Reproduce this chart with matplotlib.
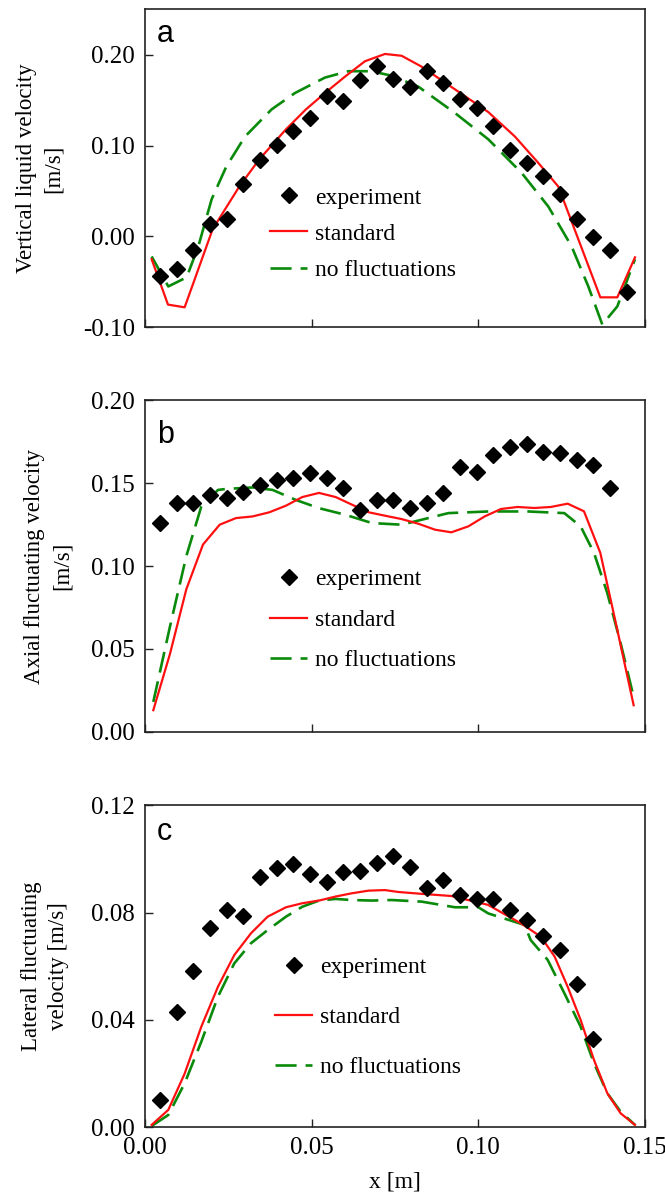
import matplotlib
matplotlib.use('Agg')
import matplotlib.pyplot as plt
from matplotlib.ticker import FormatStrFormatter

plt.rcParams['font.family'] = ['Liberation Serif', 'DejaVu Serif']

# experiment positions
x_exp = [0.0045, 0.0095, 0.0145, 0.0195, 0.0245, 0.0295, 0.0345, 0.0395,
         0.0445, 0.0495, 0.0545, 0.0595, 0.0645, 0.0695, 0.0745, 0.0795,
         0.0845, 0.0895, 0.0945, 0.0995, 0.1045, 0.1095, 0.1145, 0.1195,
         0.1245, 0.1295, 0.1345, 0.1395, 0.1445]

# (a) vertical liquid velocity
a_exp = [-0.043, -0.036, -0.015, 0.014, 0.019, 0.058, 0.084, 0.101, 0.116,
         0.130, 0.155, 0.149, 0.172, 0.188, 0.173, 0.165, 0.182, 0.169,
         0.151, 0.142, 0.122, 0.095, 0.081, 0.067, 0.047, 0.019, -0.001,
         -0.015, -0.061]
a_std_x = [0.002, 0.0069, 0.0119, 0.0203, 0.0283, 0.0343, 0.0423, 0.0483,
           0.054, 0.060, 0.066, 0.072, 0.077, 0.083, 0.093, 0.103, 0.111,
           0.118, 0.124, 0.127, 0.130, 0.1366, 0.1417, 0.147]
a_std = [-0.025, -0.075, -0.078, 0.008, 0.055, 0.085, 0.118, 0.140, 0.158,
         0.176, 0.193, 0.201, 0.199, 0.187, 0.162, 0.137, 0.110, 0.081,
         0.055, 0.026, -0.003, -0.067, -0.067, -0.023]
a_nof_x = [0.002, 0.007, 0.0125, 0.016, 0.020, 0.0244, 0.030, 0.038, 0.045,
           0.054, 0.061, 0.068, 0.074, 0.082, 0.093, 0.103, 0.113, 0.121,
           0.128, 0.133, 0.1372, 0.1417, 0.147]
a_nof = [-0.022, -0.055, -0.045, -0.011, 0.041, 0.077, 0.110, 0.140, 0.158,
         0.175, 0.182, 0.182, 0.177, 0.165, 0.136, 0.107, 0.070, 0.033,
         -0.011, -0.055, -0.097, -0.077, -0.025]

# (b) axial fluctuating velocity
b_exp = [0.126, 0.138, 0.138, 0.143, 0.141, 0.145, 0.149, 0.152, 0.153,
         0.156, 0.153, 0.147, 0.134, 0.140, 0.140, 0.135, 0.138, 0.144,
         0.160, 0.157, 0.167, 0.172, 0.174, 0.169, 0.168, 0.164, 0.161,
         0.147]
b_std_x = [0.0025, 0.0075, 0.0124, 0.0174, 0.0224, 0.0273, 0.0323, 0.0373,
           0.0423, 0.0472, 0.0522, 0.0572, 0.0621, 0.0671, 0.0721, 0.077,
           0.082, 0.087, 0.0919, 0.097, 0.1019, 0.1068, 0.1118, 0.1168,
           0.1217, 0.1268, 0.1317, 0.1366, 0.1417, 0.1466]
b_std = [0.013, 0.047, 0.086, 0.113, 0.125, 0.129, 0.130, 0.1325, 0.1365,
         0.1417, 0.1442, 0.1417, 0.1371, 0.1325, 0.1304, 0.1284, 0.1256,
         0.122, 0.1204, 0.124, 0.130, 0.1345, 0.1357, 0.1351, 0.1357,
         0.1377, 0.1331, 0.108, 0.0615, 0.016]
b_nof_x = [0.0025, 0.0075, 0.0124, 0.0169, 0.0219, 0.0244, 0.0323, 0.0383,
           0.0452, 0.0522, 0.0601, 0.0681, 0.077, 0.083, 0.091, 0.103,
           0.1148, 0.1258, 0.1307, 0.1347, 0.1387, 0.1427, 0.1466]
b_nof = [0.018, 0.0635, 0.106, 0.136, 0.146, 0.1466, 0.1475, 0.146, 0.140,
         0.135, 0.131, 0.126, 0.125, 0.128, 0.132, 0.133, 0.133, 0.132,
         0.124, 0.108, 0.0837, 0.0534, 0.021]

# (c) lateral fluctuating velocity
c_exp = [0.0102, 0.0431, 0.0584, 0.0742, 0.081, 0.0788, 0.0932, 0.0965,
         0.098, 0.0944, 0.0916, 0.0953, 0.0957, 0.0986, 0.1011, 0.0971,
         0.0891, 0.0922, 0.0866, 0.085, 0.085, 0.081, 0.0773, 0.0713,
         0.0661, 0.0534, 0.0328]
c_std_x = [0.002, 0.007, 0.0119, 0.0169, 0.0219, 0.0268, 0.0318, 0.0368,
           0.0423, 0.0472, 0.0522, 0.0572, 0.062, 0.0671, 0.072, 0.076,
           0.083, 0.0919, 0.1029, 0.1128, 0.1188, 0.1229, 0.1268, 0.1307,
           0.1347, 0.1387, 0.1427, 0.147]
c_std = [0.0009, 0.0065, 0.020, 0.0375, 0.0524, 0.0642, 0.0723, 0.0785,
         0.082, 0.0835, 0.0845, 0.086, 0.0872, 0.0882, 0.0884, 0.0877,
         0.087, 0.0862, 0.0829, 0.076, 0.071, 0.0636, 0.0524, 0.040, 0.0251,
         0.0127, 0.0052, 0.0009]
c_nof_x = [0.002, 0.007, 0.0119, 0.0169, 0.0219, 0.0268, 0.0318, 0.0368,
           0.0423, 0.0472, 0.0522, 0.0572, 0.062, 0.068, 0.074, 0.083, 0.093,
           0.100, 0.103, 0.1139, 0.1157, 0.1208, 0.1258, 0.1307, 0.1347,
           0.1387, 0.1427, 0.147]
c_nof = [0.0005, 0.0046, 0.0164, 0.0319, 0.0487, 0.0611, 0.0686, 0.0735,
         0.0785, 0.0822, 0.0845, 0.0851, 0.0847, 0.0845, 0.0847, 0.0841,
         0.082, 0.082, 0.0797, 0.0754, 0.0698, 0.0624, 0.050, 0.0375, 0.0239,
         0.0127, 0.0058, 0.0009]

panels = [
    dict(letter='a', exp=a_exp, sx=a_std_x, sy=a_std, nx=a_nof_x, ny=a_nof,
         ylim=(-0.10, 0.25), yticks=[-0.10, 0.00, 0.10, 0.20],
         ylabel='Vertical liquid velocity\n[m/s]', lab_x=-0.162,
         pos=[0.2180, 0.7268, 0.7519, 0.2653], leg=(0.25, 0.2936), lsp=0.62,
         let_y=0.898),
    dict(letter='b', exp=b_exp, sx=b_std_x, sy=b_std, nx=b_nof_x, ny=b_nof,
         ylim=(0.0, 0.20), yticks=[0.00, 0.05, 0.10, 0.15, 0.20],
         ylabel='Axial fluctuating velocity\n[m/s]', lab_x=-0.145,
         pos=[0.2180, 0.3892, 0.7519, 0.2765], leg=(0.25, 0.337), lsp=0.8,
         let_y=0.872),
    dict(letter='c', exp=c_exp, sx=c_std_x, sy=c_std, nx=c_nof_x, ny=c_nof,
         ylim=(0.0, 0.12), yticks=[0.00, 0.04, 0.08, 0.12],
         ylabel='Lateral fluctuating\nvelocity [m/s]', lab_x=-0.152,
         pos=[0.2180, 0.0590, 0.7519, 0.2688], leg=(0.26, 0.341), lsp=1.2,
         let_y=0.892),
]

fig = plt.figure(figsize=(6.65, 11.98), dpi=100)

for i, p in enumerate(panels):
    ax = fig.add_axes(p['pos'])
    n = len(p['exp'])
    ax.plot(x_exp[:n], p['exp'], linestyle='none', marker='D', ms=8,
            color='black', label='experiment', zorder=4)
    ax.plot(p['sx'], p['sy'], color='#ff1010', lw=1.6, label='standard',
            zorder=3)
    ax.plot(p['nx'], p['ny'], color='#0a8a0a', lw=1.9, dashes=(8, 3.4),
            label='no fluctuations', zorder=2)

    ax.set_xlim(0.0, 0.15)
    ax.set_ylim(*p['ylim'])
    ax.set_xticks([0.00, 0.05, 0.10, 0.15])
    ax.set_yticks(p['yticks'])
    ax.xaxis.set_major_formatter(FormatStrFormatter('%.2f'))
    ax.yaxis.set_major_formatter(FormatStrFormatter('%.2f'))
    ax.tick_params(direction='in', length=6, width=1.0, labelsize=18, pad=7,
                   color='#222222')
    if i < 2:
        ax.tick_params(axis='x', labelbottom=False)
    else:
        ax.set_xlabel('x [m]', fontsize=17, labelpad=9)
    for s in ax.spines.values():
        s.set_linewidth(1.2)
        s.set_color('#222222')

    ax.set_ylabel(p['ylabel'], fontsize=16.5, linespacing=1.4)
    ax.yaxis.set_label_coords(p['lab_x'], 0.5)

    ax.text(0.024, p['let_y'], p['letter'], transform=ax.transAxes,
            fontsize=22, family=['Liberation Sans', 'DejaVu Sans'],
            va='baseline', ha='left')

    ax.legend(loc='center left', bbox_to_anchor=p['leg'], frameon=False,
              fontsize=17, handlelength=1.57, handletextpad=0.34,
              labelspacing=p['lsp'], borderpad=0, borderaxespad=0)

fig.savefig('out.png', dpi=100)
